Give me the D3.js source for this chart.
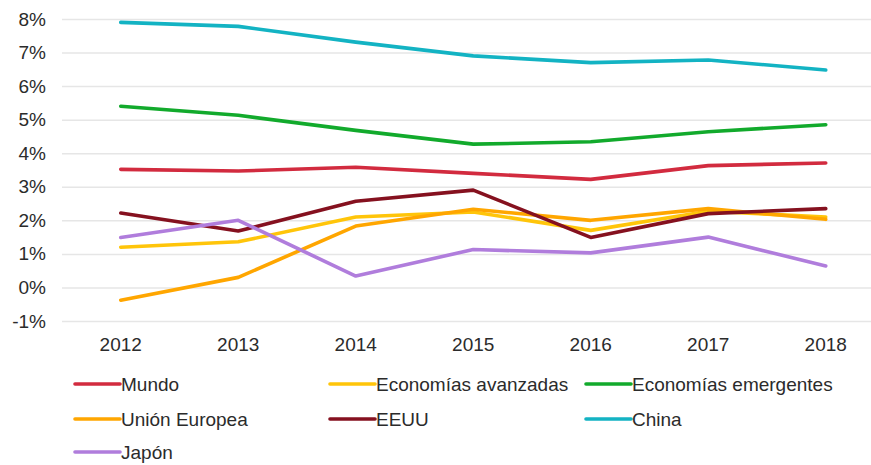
<!DOCTYPE html>
<html>
<head>
<meta charset="utf-8">
<script src="https://cdn.jsdelivr.net/npm/d3@7"></script>
<style>
  html, body { margin: 0; padding: 0; background: #fff; }
  svg text { font-family: "Liberation Sans", Arial, sans-serif; fill: #2b2b2b; }
</style>
</head>
<body>
<div id="chart"></div>
<script>
const width = 871;
const height = 465;

// data
const years = ["2012", "2013", "2014", "2015", "2016", "2017", "2018"];
const yTicks = [-1, 0, 1, 2, 3, 4, 5, 6, 7, 8];

const mundo = [3.52, 3.47, 3.58, 3.40, 3.22, 3.63, 3.71];
const avanzadas = [1.20, 1.36, 2.10, 2.25, 1.70, 2.27, 2.10];
const emergentes = [5.40, 5.13, 4.68, 4.27, 4.34, 4.64, 4.85];
const unionEuropea = [-0.38, 0.30, 1.83, 2.33, 2.00, 2.35, 2.03];
const eeuu = [2.22, 1.68, 2.57, 2.90, 1.49, 2.20, 2.35];
const china = [7.90, 7.78, 7.31, 6.90, 6.70, 6.78, 6.48];
const japon = [1.49, 2.00, 0.34, 1.13, 1.03, 1.50, 0.64];

const series = [
    { name: "Mundo", values: mundo, color: "#d22b3f" },
    { name: "Economías avanzadas", values: avanzadas, color: "#ffc50a" },
    { name: "Economías emergentes", values: emergentes, color: "#12aa2c" },
    { name: "Unión Europea", values: unionEuropea, color: "#ffa600" },
    { name: "EEUU", values: eeuu, color: "#85111f" },
    { name: "China", values: china, color: "#13b3c3" },
    { name: "Japón", values: japon, color: "#b07ddc" }
];

const svg = d3.select("#chart")
    .append("svg")
    .attr("width", width)
    .attr("height", height);

// =========================
// SCALES
// =========================
const x = d3.scaleBand()
    .domain(years)
    .range([62, 884.5])
    .padding(0);

const cx = d => x(d) + x.bandwidth() / 2;

const y = d3.scaleLinear()
    .domain([-1, 8])
    .range([321, 19]);

// =========================
// GRID + AXES
// =========================
const yAxis = svg.append("g")
    .attr("transform", "translate(62,0)")
    .call(d3.axisLeft(y)
        .tickValues(yTicks)
        .tickSize(-(width - 62))
        .tickPadding(16)
        .tickFormat(d => d + "%"));

yAxis.select(".domain").remove();
yAxis.selectAll(".tick line")
    .attr("stroke", "#e6e6e6")
    .attr("stroke-width", 1.5);
yAxis.selectAll(".tick text")
    .style("font-size", "19px")
    .attr("fill", "#2b2b2b");

const xAxis = svg.append("g")
    .attr("transform", "translate(0,321)")
    .call(d3.axisBottom(x).tickSize(0).tickPadding(17));

xAxis.select(".domain").remove();
xAxis.selectAll(".tick text")
    .style("font-size", "19px")
    .attr("fill", "#2b2b2b");

// =========================
// LINES
// =========================
const line = d3.line()
    .x((d, i) => cx(years[i]))
    .y(d => y(d));

svg.append("g")
    .selectAll("path")
    .data(series)
    .enter()
    .append("path")
    .attr("d", d => line(d.values))
    .attr("fill", "none")
    .attr("stroke", d => d.color)
    .attr("stroke-width", 3.6)
    .attr("stroke-linejoin", "round")
    .attr("stroke-linecap", "round");

// =========================
// LEGEND
// =========================
const legendCols = [75, 330, 586];
const legendRows = [384, 419, 452];

const legend = svg.append("g");

series.forEach((s, i) => {
    const g = legend.append("g")
        .attr("transform", `translate(${legendCols[i % 3]}, ${legendRows[Math.floor(i / 3)]})`);

    g.append("line")
        .attr("x1", 0)
        .attr("x2", 45)
        .attr("y1", 0)
        .attr("y2", 0)
        .attr("stroke", s.color)
        .attr("stroke-width", 3.6)
        .attr("stroke-linecap", "round");

    g.append("text")
        .attr("x", 46)
        .attr("y", 0)
        .attr("dy", "0.35em")
        .style("font-size", "19px")
        .text(s.name);
});
</script>
</body>
</html>
